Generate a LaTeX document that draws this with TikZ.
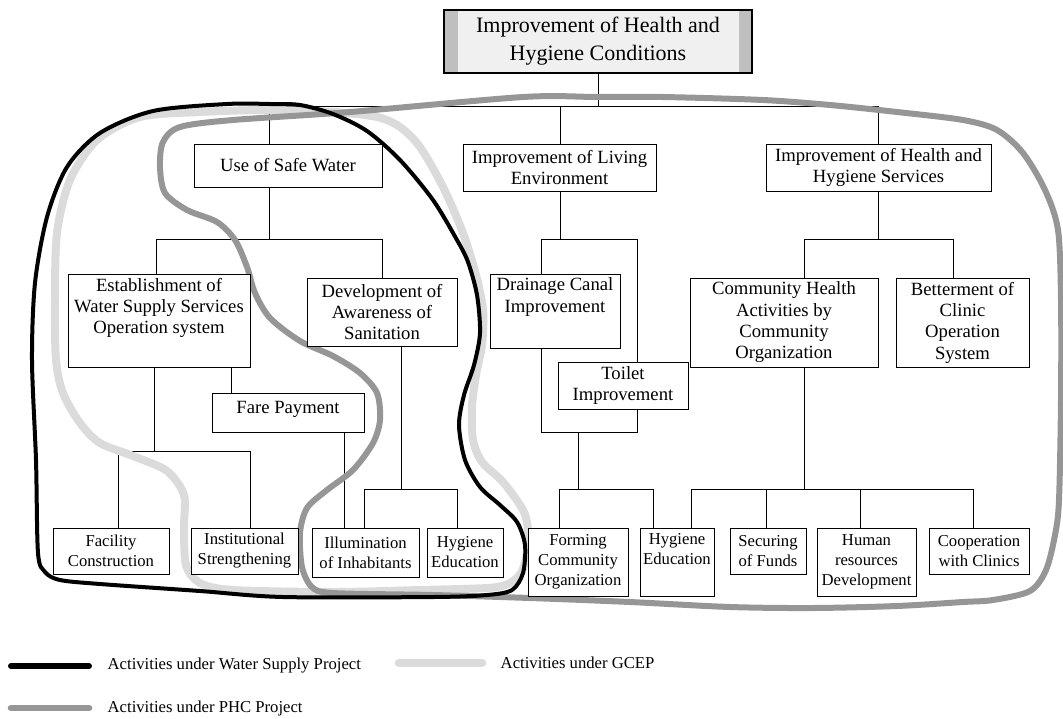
\documentclass[tikz,border=0pt]{standalone}
\usepackage{fontspec}
\setmainfont{Liberation Serif}
\usetikzlibrary{backgrounds}
\newcommand\boxgap[1]{\rule[-#1]{0pt}{#1}}
\definecolor{gceptone}{gray}{0.86}
\definecolor{phctone}{gray}{0.59}
\definecolor{bandtone}{gray}{0.75}
\definecolor{goaltone}{gray}{0.94}
\begin{document}
\begin{tikzpicture}[x=0.75pt,y=-0.75pt,
  box/.style={draw,fill=white,align=center,inner sep=1pt,line width=0.7pt},
  wh/.style 2 args={minimum width=#1*0.75pt,minimum height=#2*0.75pt},
  mid/.style={font=\fontsize{14}{16}\selectfont},
  low/.style={font=\fontsize{12.5}{15}\selectfont},
  tree/.style={line width=0.7pt},
  wspline/.style={line width=3pt,line join=round},
  gcepline/.style={gceptone,line width=6pt},
  phcline/.style={phctone,line width=4.5pt}]
\useasboundingbox (0,0) rectangle (1063,718);
\node[box,wh={308}{63},fill=goaltone,line width=1.1pt,font=\fontsize{16.5}{21}\selectfont,
  path picture={\fill[bandtone] (path picture bounding box.south west) rectangle ([xshift=10.5pt]path picture bounding box.north west);
  \fill[bandtone] (path picture bounding box.south east) rectangle ([xshift=-10pt]path picture bounding box.north east);}]
  (goal) at (598,41.5) {Improvement of Health and\\Hygiene Conditions};
\node[box,mid,wh={188}{43}] (water) at (288,165.5) {Use of Safe Water};
\node[box,mid,wh={193}{47}] (living) at (559.5,167.5) {Improvement of Living\\Environment};
\node[box,mid,wh={225}{47}] (services) at (878.5,167.5) {Improvement of Health and\\Hygiene Services};
\node[box,mid,wh={182}{93}] (est) at (159,320.5) {Establishment of\\Water Supply Services\\Operation system\boxgap{22pt}};
\node[box,mid,wh={150}{68}] (dev) at (382,312) {Development of\\Awareness of\\Sanitation};
\node[box,mid,wh={152}{39}] (fare) at (288,412.5) {Fare Payment\boxgap{8pt}};
\node[box,mid,wh={130}{74}] (drain) at (555,311) {Drainage Canal\\Improvement\boxgap{24pt}};
\node[box,mid,wh={130}{47}] (toilet) at (623,385.5) {Toilet\\Improvement};
\node[box,mid,wh={188}{89}] (comm) at (784,322.5) {Community Health\\Activities by\\Community\\Organization};
\node[box,mid,wh={133}{89}] (better) at (962.5,322.5) {Betterment of\\Clinic\\Operation\\System};
\node[box,low,wh={116}{46}] (facility) at (111,551) {Facility\\Construction};
\node[box,low,wh={107}{46}] (inst) at (244.5,551) {Institutional\\Strengthening};
\node[box,low,wh={107}{49}] (illum) at (365.5,552.5) {Illumination\\of Inhabitants};
\node[box,low,wh={76}{49}] (hyg1) at (465,552.5) {Hygiene\\Education};
\node[box,low,wh={100}{68}] (forming) at (578,562) {Forming\\Community\\Organization};
\node[box,low,wh={74}{68}] (hyg2) at (677,562) {Hygiene\\Education\boxgap{20pt}};
\node[box,low,wh={76}{46}] (funds) at (768,551) {Securing\\of Funds};
\node[box,low,wh={99}{68}] (human) at (866.5,562) {Human\\resources\\Development};
\node[box,low,wh={100}{46}] (coop) at (979,551) {Cooperation\\with Clinics};
\node[low,anchor=west] (lgwsp) at (103,666) {Activities under Water Supply Project};
\node[low,anchor=west] (lggcep) at (496,663) {Activities under GCEP};
\node[low,anchor=west] (lgphc) at (103,708) {Activities under PHC Project};
\draw[line width=4.5pt,line cap=round] ([xshift=-10.5pt]lgwsp.west) -- ++(-78,0);
\draw[gceptone,line width=6.5pt,line cap=round] ([xshift=-10.5pt]lggcep.west) -- ++(-83,0);
\draw[phctone,line width=5pt,line cap=round] ([xshift=-10.5pt]lgphc.west) -- ++(-78,0);
\begin{scope}[on background layer]
\draw[tree] (goal) -- (598,106);
\draw[tree] (269,106) -- (878,106);
\foreach \x/\n in {269/water,560/living,878/services} \draw[tree] (\x,106) -- (\x,106 |- \n.north);
\draw[tree] (269,0 |- water.south) -- (269,239);
\draw[tree] (156,239) -- (382,239);
\foreach \x/\n in {156/est,382/dev} \draw[tree] (\x,239) -- (\x,239 |- \n.north);
\draw[tree] (154,0 |- est.south) -- (154,451);
\draw[tree] (231,0 |- est.south) -- (231,0 |- fare.north);
\draw[tree] (118,451) -- (250,451);
\foreach \x/\n in {118/facility,250/inst} \draw[tree] (\x,451) -- (\x,451 |- \n.north);
\draw[tree] (344,0 |- fare.south) -- (344,0 |- illum.north);
\draw[tree] (401,0 |- dev.south) -- (401,489);
\draw[tree] (364,489) -- (457,489);
\foreach \x/\n in {364/illum,457/hyg1} \draw[tree] (\x,489) -- (\x,489 |- \n.north);
\draw[tree] (560,0 |- living.south) -- (560,239);
\draw[tree] (541,0 |- drain.north) |- (637,239) -- (637,0 |- toilet.north);
\draw[tree] (541,0 |- drain.south) |- (637,432) -- (637,0 |- toilet.south);
\draw[tree] (578,432) -- (578,489);
\draw[tree] (559,489) -- (653,489);
\foreach \x/\n in {559/forming,653/hyg2} \draw[tree] (\x,489) -- (\x,489 |- \n.north);
\draw[tree] (878,0 |- services.south) -- (878,239);
\draw[tree] (804,239) -- (953,239);
\foreach \x/\n in {804/comm,953/better} \draw[tree] (\x,239) -- (\x,239 |- \n.north);
\draw[tree] (804,0 |- comm.south) -- (804,489);
\draw[tree] (691,489) -- (973,489);
\foreach \x/\n in {691/hyg2,766/funds,860/human,973/coop} \draw[tree] (\x,489) -- (\x,489 |- \n.north);
\draw[gcepline] plot[smooth cycle] coordinates {(97,140) (140,117) (200,112) (267,110) (333,112) (377,117) (400,127) (420,147) (443,187) (463,233) (476,275) (483,310) (482,345) (476,375) (472,407) (473,440) (482,462) (503,482) (523,510) (528,530) (527,553) (521,573) (508,584) (487,588) (420,590) (333,592) (233,590) (200,583) (186,565) (184,527) (184,495) (167,471) (133,456) (100,443) (80,423) (63,393) (56,360) (55,300) (57,233) (70,180)};
\draw[phcline] plot[smooth cycle] coordinates {(523,97) (597,97) (663,97) (763,100) (830,105) (897,112) (963,120) (997,130) (1023,153) (1045,190) (1058,230) (1061,300) (1061,400) (1059,500) (1055,535) (1046,570) (1030,591) (993,600) (963,602) (897,606) (813,608) (730,607) (630,602) (530,598) (433,595) (333,593) (312,587) (302,567) (300,533) (307,508) (327,490) (353,470) (373,443) (380,420) (377,393) (360,373) (333,356) (300,341) (270,318) (255,293) (247,267) (235,240) (217,222) (187,210) (165,193) (160,167) (163,142) (180,127) (233,120) (350,112)};
\draw[wspline] plot[smooth cycle] coordinates {(270,104) (227,104) (153,111) (100,133) (67,167) (47,217) (35,283) (32,360) (36,460) (38,553) (45,572) (60,580) (100,584) (200,591) (283,597) (433,597) (487,595) (512,590) (523,573) (525,545) (517,522) (500,505) (480,487) (465,460) (459,425) (464,395) (474,365) (480,333) (477,295) (468,262) (457,240) (433,200) (400,160) (367,131) (333,114) (300,105)};
\end{scope}
\end{tikzpicture}
\end{document}
